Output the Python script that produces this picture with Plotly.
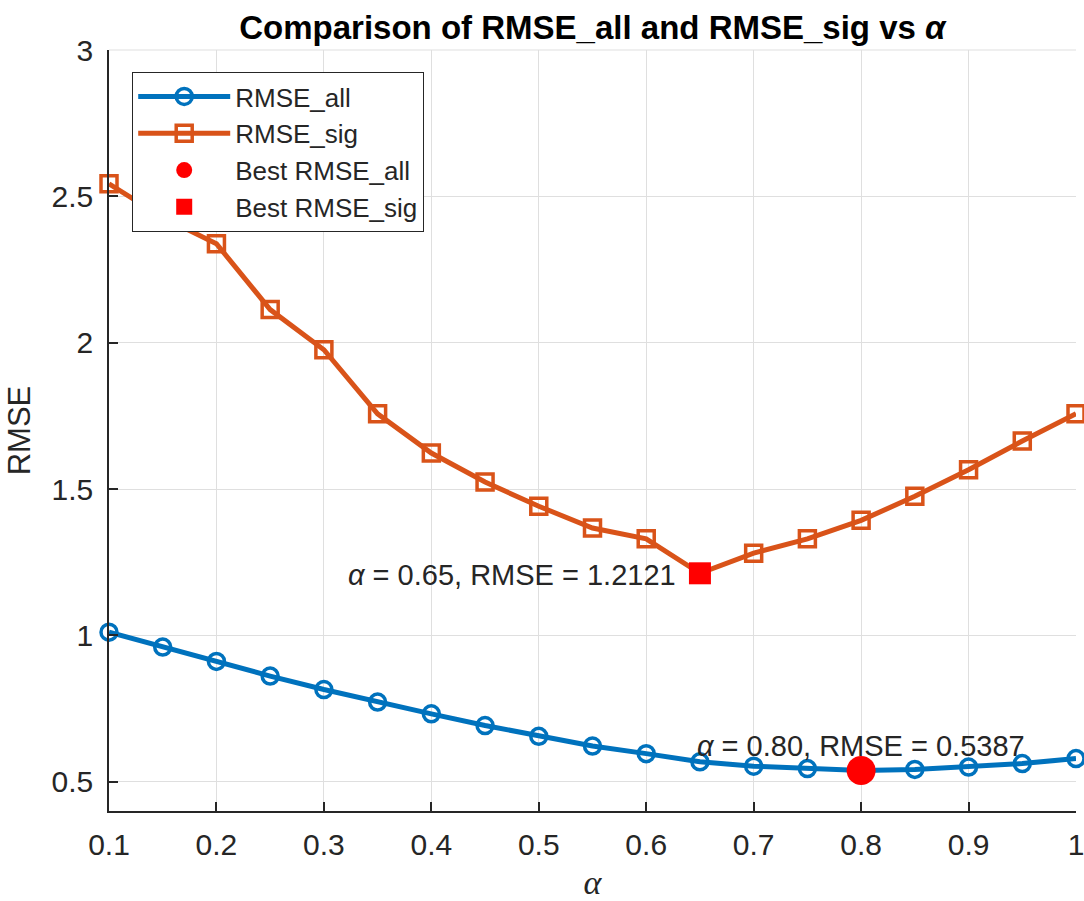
import plotly.graph_objects as go

alpha = [0.10, 0.15, 0.20, 0.25, 0.30, 0.35, 0.40, 0.45, 0.50, 0.55,
         0.60, 0.65, 0.70, 0.75, 0.80, 0.85, 0.90, 0.95, 1.00]
rmse_all = [1.011, 0.960, 0.911, 0.861, 0.815, 0.772, 0.732, 0.692, 0.655, 0.622,
            0.596, 0.568, 0.553, 0.545, 0.5387, 0.542, 0.550, 0.562, 0.579]
rmse_sig = [2.543, 2.428, 2.338, 2.113, 1.976, 1.757, 1.623, 1.524, 1.441, 1.367,
            1.330, 1.2121, 1.281, 1.330, 1.393, 1.475, 1.566, 1.664, 1.757]
x_ticks = [0.1, 0.2, 0.3, 0.4, 0.5, 0.6, 0.7, 0.8, 0.9, 1.0]
x_tick_text = ["0.1", "0.2", "0.3", "0.4", "0.5", "0.6", "0.7", "0.8", "0.9", "1"]
y_ticks = [0.5, 1, 1.5, 2, 2.5, 3]
y_tick_text = ["0.5", "1", "1.5", "2", "2.5", "3"]

i_all = rmse_all.index(min(rmse_all))
i_sig = rmse_sig.index(min(rmse_sig))

BLUE = "#0072BD"
ORANGE = "#D95319"
RED = "#FF0000"
DARK = "#262626"
FONT = "Liberation Sans, Arial, sans-serif"
SERIF = "Liberation Serif, Times New Roman, serif"

fig = go.Figure()
fig.add_trace(go.Scatter(
    x=alpha, y=rmse_all, mode="lines+markers", name="RMSE_all",
    line=dict(color=BLUE, width=5),
    marker=dict(symbol="circle-open", size=16, color=BLUE, line=dict(width=3.5, color=BLUE)),
    cliponaxis=False))
fig.add_trace(go.Scatter(
    x=alpha, y=rmse_sig, mode="lines+markers", name="RMSE_sig",
    line=dict(color=ORANGE, width=5),
    marker=dict(symbol="square-open", size=16, color=ORANGE, line=dict(width=3.5, color=ORANGE)),
    cliponaxis=False))
fig.add_trace(go.Scatter(
    x=[alpha[i_all]], y=[rmse_all[i_all]], mode="markers", name="Best RMSE_all",
    marker=dict(symbol="circle", size=29, color=RED), cliponaxis=False))
fig.add_trace(go.Scatter(
    x=[alpha[i_sig]], y=[rmse_sig[i_sig]], mode="markers", name="Best RMSE_sig",
    marker=dict(symbol="square", size=22, color=RED), cliponaxis=False))

fig.add_annotation(
    x=alpha[i_sig], y=rmse_sig[i_sig], xref="x", yref="y",
    text=f"<i>α</i> = {alpha[i_sig]:.2f}, RMSE = {rmse_sig[i_sig]:.4f}",
    showarrow=False, xanchor="right", yanchor="middle", xshift=-22, yshift=-2,
    font=dict(family=FONT, size=29, color=DARK))
fig.add_annotation(
    x=alpha[i_all], y=rmse_all[i_all], xref="x", yref="y",
    text=f"<i>α</i> = {alpha[i_all]:.2f}, RMSE = {rmse_all[i_all]:.4f}",
    showarrow=False, xanchor="center", yanchor="middle", yshift=24,
    font=dict(family=FONT, size=29, color=DARK))

fig.update_layout(
    width=1084, height=901,
    margin=dict(l=109, r=8, t=50, b=90),
    paper_bgcolor="white", plot_bgcolor="white",
    font=dict(family=FONT, color=DARK),
    title=dict(text="<b>Comparison of RMSE_all and RMSE_sig vs <i>α</i></b>",
               x=0.5465, xanchor="center", y=0.969, yanchor="middle",
               font=dict(family=FONT, size=33, color="#000000")),
    showlegend=True,
    legend=dict(x=0.024, y=0.971, xanchor="left", yanchor="top",
                bgcolor="white", bordercolor=DARK, borderwidth=1,
                font=dict(family=FONT, size=26, color=DARK),
                itemwidth=92, tracegroupgap=0),
    xaxis=dict(range=[0.1, 1.0], tickvals=x_ticks, ticktext=x_tick_text,
               automargin=False,
               showgrid=True, gridcolor="#DFDFDF", gridwidth=1,
               zeroline=False, showline=True, linecolor=DARK, linewidth=1.5,
               ticks="inside", ticklen=9, tickcolor=DARK, tickwidth=1.5,
               ticklabelstandoff=6, ticklabeloverflow="allow",
               tickfont=dict(family=FONT, size=30, color=DARK),
               title=dict(text="<i>α</i>", standoff=22,
                          font=dict(family=SERIF, size=34, color=DARK))),
    yaxis=dict(range=[0.4, 3.0], tickvals=y_ticks, ticktext=y_tick_text,
               automargin=False,
               showgrid=True, gridcolor="#DFDFDF", gridwidth=1,
               zeroline=False, showline=True, linecolor=DARK, linewidth=1.5,
               ticks="inside", ticklen=9, tickcolor=DARK, tickwidth=1.5,
               ticklabelstandoff=8, ticklabeloverflow="allow",
               tickfont=dict(family=FONT, size=30, color=DARK),
               title=dict(text="RMSE", standoff=12,
                          font=dict(family=FONT, size=31, color=DARK))),
)
fig.add_shape(type="line", xref="paper", yref="paper", x0=0, x1=1, y0=1, y1=1,
              line=dict(color="#DFDFDF", width=1), layer="below")

fig.write_html("out.html")
